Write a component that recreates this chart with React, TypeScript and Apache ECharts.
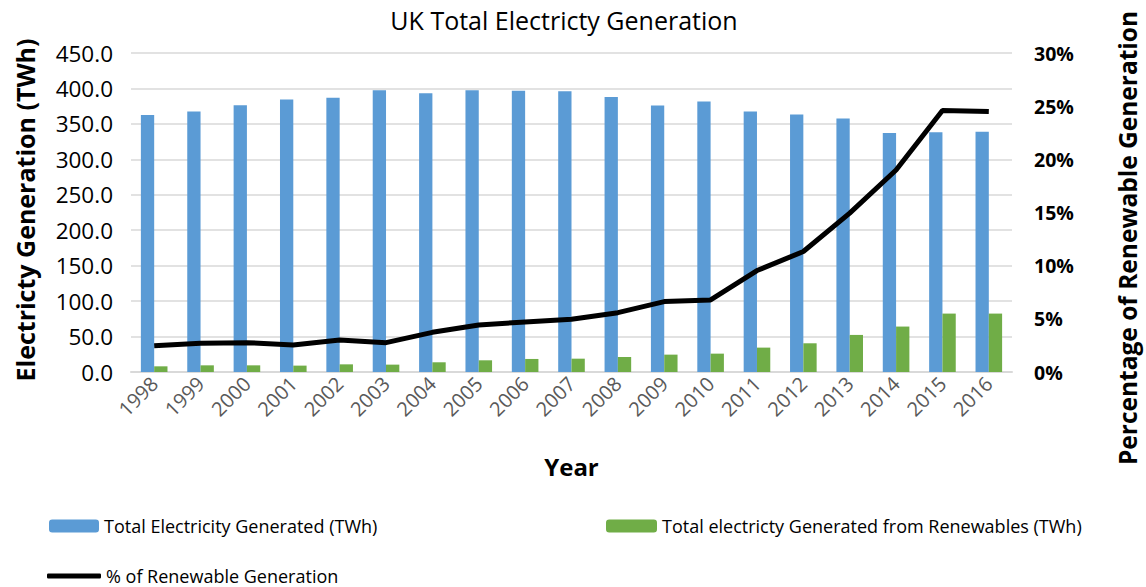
import React, { useEffect, useRef } from "react";
import * as echarts from "echarts";

const years = ["1998","1999","2000","2001","2002","2003","2004","2005","2006","2007","2008","2009","2010","2011","2012","2013","2014","2015","2016"];
const totalGen = [362.7,367.4,376.3,384.3,386.7,397.5,393.3,397.5,396.6,396.1,388.1,375.8,381.5,367.4,363.1,357.5,337.2,338.2,339.0];
const renewGen = [8.0,9.4,9.4,9.0,10.8,10.4,13.7,16.5,18.4,18.8,21.2,24.5,25.9,34.4,40.5,52.3,64.1,82.4,82.4];
const renewPct = [2.48,2.7,2.76,2.54,3.01,2.76,3.73,4.42,4.71,4.96,5.58,6.62,6.78,9.54,11.33,14.94,19.0,24.6,24.5];

const FONT = "'Open Sans', sans-serif";
const S1 = "Total Electricity Generated (TWh)";
const S2 = "Total electricty Generated from Renewables (TWh)";
const S3 = "% of Renewable Generation";
const LEFT_NAME = "Electricty Generation (TWh)";
const RIGHT_NAME = "Percentage of Renewable Generation";

export default function App() {
  const ref = useRef<HTMLDivElement>(null);
  useEffect(() => {
    if (!ref.current) return;
    const chart = echarts.init(ref.current, undefined, { renderer: "svg" });
    const legendText = { fontFamily: FONT, fontSize: 18, color: "#000", lineHeight: 20 };
    chart.setOption({
      animation: false,
      backgroundColor: "#fff",
      textStyle: { fontFamily: FONT },
      title: {
        text: "UK Total Electricty Generation",
        left: 559,
        textAlign: "center",
        top: 2,
        textStyle: { fontFamily: FONT, fontSize: 25, fontWeight: "normal", color: "#000" },
      },
      graphic: [
        {
          type: "text", x: 25, y: 210, rotation: Math.PI / 2,
          style: { text: LEFT_NAME, fontFamily: FONT, fontSize: 25, fontWeight: "bold", fill: "#000", align: "center", verticalAlign: "middle" },
        },
        {
          type: "text", x: 1127, y: 238, rotation: Math.PI / 2,
          style: { text: RIGHT_NAME, fontFamily: FONT, fontSize: 24.5, fontWeight: "bold", fill: "#000", align: "center", verticalAlign: "middle" },
        },
      ],
      grid: { left: 131, right: 134, top: 53, bottom: 215, containLabel: false, outerBoundsMode: "none" },
      legend: [
        { data: [S1], left: 44, top: 511, itemWidth: 50, itemHeight: 13, textStyle: legendText },
        { data: [S2], left: 601, top: 511, itemWidth: 51, itemHeight: 13, textStyle: legendText },
        { data: [{ name: S3, icon: "roundRect" }], left: 42, top: 561, itemWidth: 54, itemHeight: 5, textStyle: legendText },
      ],
      xAxis: {
        type: "category",
        data: years,
        name: "Year",
        nameLocation: "middle",
        nameGap: 82,
        nameTextStyle: { fontFamily: FONT, fontSize: 24, fontWeight: "bold", color: "#000" },
        axisLine: { lineStyle: { color: "#d9d9d9", width: 2 } },
        axisTick: { show: false },
        axisLabel: { rotate: 45, fontSize: 20, color: "#595959", fontFamily: FONT, margin: 8 },
      },
      yAxis: [
        {
          type: "value",
          min: 0,
          max: 450,
          interval: 50,
          axisLabel: {
            fontSize: 22.5, color: "#000", fontFamily: FONT, margin: 18,
            formatter: (v: number) => v.toFixed(1),
          },
          splitLine: { lineStyle: { color: "#d9d9d9", width: 1.5 } },
          axisLine: { show: false },
          axisTick: { show: false },
        },
        {
          type: "value",
          min: 0,
          max: 30,
          interval: 5,
          position: "right",
          axisLabel: {
            fontSize: 19.5, color: "#000", fontWeight: "bold", fontFamily: FONT, margin: 22,
            formatter: (v: number) => v + "%",
          },
          splitLine: { show: false },
          axisLine: { show: false },
          axisTick: { show: false },
        },
      ],
      series: [
        {
          name: S1,
          type: "bar",
          data: totalGen,
          barWidth: 13.3,
          barGap: "0%",
          itemStyle: { color: "#5b9bd5" },
        },
        {
          name: S2,
          type: "bar",
          data: renewGen,
          barWidth: 13.3,
          itemStyle: { color: "#70ad47" },
        },
        {
          name: S3,
          type: "line",
          yAxisIndex: 1,
          data: renewPct,
          showSymbol: false,
          symbol: "none",
          lineStyle: { color: "#000", width: 5 },
          itemStyle: { color: "#000" },
        },
      ],
    });
    return () => chart.dispose();
  }, []);
  return <div ref={ref} style={{ position: "fixed", left: 0, top: 0, width: 1146, height: 587 }} />;
}
